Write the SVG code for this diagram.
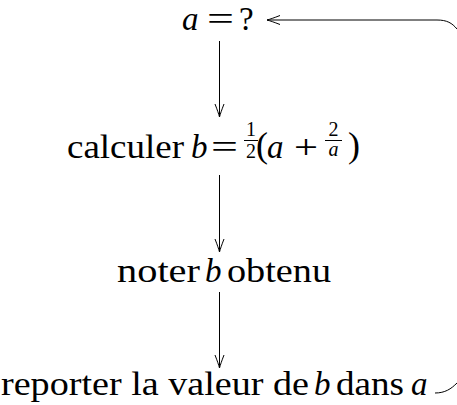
<svg xmlns="http://www.w3.org/2000/svg" width="457" height="405" viewBox="0 0 457 405">
  <style>
    .t { font-family: "Liberation Serif", "DejaVu Serif", "Times New Roman", serif; font-size: 33px; fill: #000; }
    .s { font-size: 20px; }
    .i { font-style: italic; }
    .c { text-anchor: middle; }
    .ln { fill: none; stroke: #000; stroke-width: 1; }
  </style>
  <defs>
    <marker id="arr" markerUnits="userSpaceOnUse" viewBox="-15 -6 16 12" refX="0" refY="0" markerWidth="16" markerHeight="12" orient="auto">
      <path d="M-13,-4.5 Q-4,-1 0,0 Q-4,1 -13,4.5" fill="none" stroke="#000" stroke-width="1"/>
    </marker>
  </defs>
  <rect width="457" height="405" fill="#fff"/>

  <g id="node-a">
    <text class="t i" x="182" y="30" font-family="Liberation Serif, serif">a</text>
    <text class="t" x="207" y="30" textLength="27" lengthAdjust="spacingAndGlyphs">=</text>
    <text class="t" x="239" y="30">?</text>
  </g>

  <g id="node-calc">
    <text class="t" x="67" y="158" textLength="117" lengthAdjust="spacingAndGlyphs">calculer</text>
    <text class="t i" x="191" y="158">b</text>
    <text class="t" x="211" y="158" textLength="27" lengthAdjust="spacingAndGlyphs">=</text>
    <text class="t s c" x="251" y="136">1</text>
    <line class="ln" x1="244" y1="140.5" x2="258" y2="140.5"/>
    <text class="t s c" x="251" y="158">2</text>
    <text class="t c" x="262" y="157" style="font-size:36px">(</text>
    <text class="t i" x="267" y="158">a</text>
    <text class="t c" x="306" y="158" textLength="24" lengthAdjust="spacingAndGlyphs">+</text>
    <text class="t s c" x="333.5" y="136">2</text>
    <line class="ln" x1="325" y1="140.5" x2="342" y2="140.5"/>
    <text class="t s c i" x="333.5" y="156">a</text>
    <text class="t c" x="354" y="157" style="font-size:36px">)</text>
  </g>

  <g id="node-noter">
    <text class="t" x="117" y="282" textLength="83" lengthAdjust="spacingAndGlyphs">noter</text>
    <text class="t i" x="205" y="282">b</text>
    <text class="t" x="227" y="282" textLength="104" lengthAdjust="spacingAndGlyphs">obtenu</text>
  </g>

  <g id="node-report">
    <text class="t" x="1" y="395" textLength="308" lengthAdjust="spacingAndGlyphs">reporter la valeur de</text>
    <text class="t i" x="314" y="395">b</text>
    <text class="t" x="336" y="395" textLength="68" lengthAdjust="spacingAndGlyphs">dans</text>
    <text class="t i" x="411" y="395">a</text>
  </g>

  <g id="connectors">
    <path class="ln" d="M219.5,41 V117" marker-end="url(#arr)"/>
    <path class="ln" d="M219.5,175 V252" marker-end="url(#arr)"/>
    <path class="ln" d="M219.5,292 V368" marker-end="url(#arr)"/>
    <path class="ln" d="M435,393 C445,393 451,389 457,383"/>
    <path class="ln" d="M457,29 C452,23 447,20 437,20 L267,20" marker-end="url(#arr)"/>
  </g>
</svg>
